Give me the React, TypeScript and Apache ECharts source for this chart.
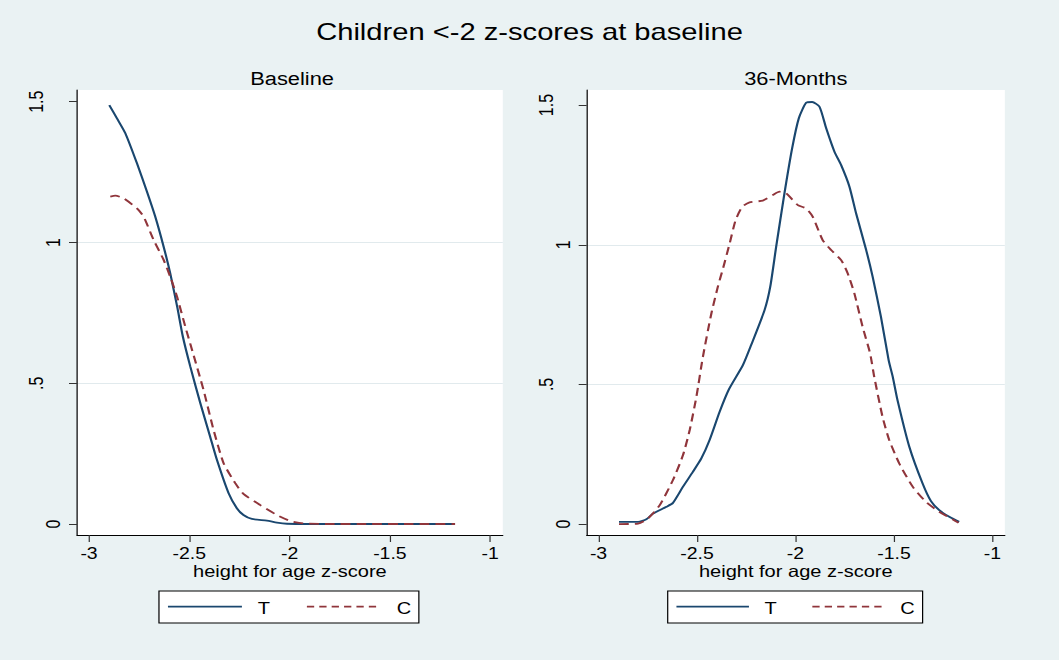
import React, { useEffect, useRef } from "react";
import * as echarts from "echarts";

// ---- data ----
const chartTitle = "Children <-2 z-scores at baseline";
const panelTitles = ["Baseline", "36-Months"];
const seriesNames = ["T", "C"];
const xTitle = "height for age z-score";
const xTicks = [-3, -2.5, -2, -1.5, -1];
const xTickLabels = ["-3", "-2.5", "-2", "-1.5", "-1"];
const yTicks = [0, 0.5, 1, 1.5];
const yTickLabels = ["0", ".5", "1", "1.5"];

// Baseline panel
const baseTX = [-2.899, -2.86, -2.819, -2.761, -2.711, -2.67, -2.628, -2.595, -2.56, -2.532, -2.495, -2.445, -2.396, -2.362, -2.304, -2.263, -2.23, -2.188, -2.113, -2.063, -2.013, -1.9, -1.7, -1.5, -1.3, -1.175];
const baseTY = [1.488, 1.44, 1.388, 1.281, 1.18, 1.092, 0.985, 0.89, 0.77, 0.665, 0.559, 0.429, 0.31, 0.227, 0.109, 0.056, 0.032, 0.018, 0.012, 0.005, 0.001, 0, 0, 0, 0, 0];
const baseCX = [-2.894, -2.869, -2.828, -2.761, -2.728, -2.678, -2.628, -2.595, -2.561, -2.52, -2.487, -2.429, -2.379, -2.329, -2.271, -2.23, -2.146, -2.063, -1.997, -1.931, -1.8, -1.6, -1.4, -1.175];
const baseCY = [1.163, 1.166, 1.157, 1.121, 1.092, 1.009, 0.938, 0.878, 0.807, 0.701, 0.62, 0.476, 0.334, 0.216, 0.145, 0.107, 0.067, 0.032, 0.011, 0.002, 0, 0, 0, 0];

// 36-Months panel
const m36TX = [-2.896, -2.799, -2.757, -2.723, -2.655, -2.622, -2.571, -2.521, -2.478, -2.436, -2.385, -2.338, -2.267, -2.225, -2.157, -2.128, -2.098, -2.056, -2.017, -1.983, -1.946, -1.915, -1.878, -1.844, -1.802, -1.768, -1.726, -1.692, -1.641, -1.608, -1.566, -1.527, -1.506, -1.482, -1.422, -1.355, -1.312, -1.27, -1.219, -1.169];
const m36TY = [0.008, 0.008, 0.017, 0.038, 0.062, 0.076, 0.134, 0.187, 0.235, 0.301, 0.402, 0.482, 0.569, 0.641, 0.766, 0.85, 0.993, 1.184, 1.345, 1.453, 1.508, 1.511, 1.494, 1.417, 1.333, 1.285, 1.208, 1.112, 0.981, 0.885, 0.742, 0.587, 0.527, 0.444, 0.277, 0.146, 0.082, 0.05, 0.026, 0.008];
const m36CX = [-2.896, -2.799, -2.749, -2.689, -2.622, -2.571, -2.537, -2.503, -2.47, -2.427, -2.394, -2.368, -2.334, -2.304, -2.27, -2.233, -2.166, -2.115, -2.081, -2.047, -1.988, -1.946, -1.912, -1.862, -1.819, -1.768, -1.735, -1.701, -1.659, -1.621, -1.6, -1.558, -1.524, -1.473, -1.405, -1.338, -1.27, -1.203, -1.172];
const m36CY = [0, 0.002, 0.02, 0.068, 0.158, 0.247, 0.337, 0.456, 0.599, 0.754, 0.85, 0.915, 1.005, 1.088, 1.136, 1.152, 1.158, 1.178, 1.19, 1.184, 1.142, 1.13, 1.1, 1.017, 0.981, 0.945, 0.898, 0.826, 0.706, 0.611, 0.527, 0.384, 0.301, 0.217, 0.134, 0.08, 0.044, 0.017, 0.005];

// ---- style ----
const BASE_W = 872;
const H = 660;
const SCALE_X = 1059 / BASE_W;
const FONT = '"Liberation Sans", Arial, Helvetica, sans-serif';
const T_COLOR = "#1A476F";
const C_COLOR = "#90353B";
const BG = "#EAF2F3";
const GRID_LINE = "#E1EAED";
const DASH = [8, 5];
const TICK_FS = 16;

const zip = (xs: number[], ys: number[]) => xs.map((x, i) => [x, ys[i]]);

const labelFor = (ticks: number[], labels: string[], v: number) => {
  for (let i = 0; i < ticks.length; i++) {
    if (Math.abs(ticks[i] - v) < 1e-6) return labels[i];
  }
  return "";
};

const tickText = {
  fontSize: TICK_FS,
  fontFamily: FONT,
  color: "#000",
};

const makeX = (gridIndex: number) => ({
  type: "value",
  gridIndex,
  min: -3.06,
  max: -0.937,
  minInterval: 0.5,
  maxInterval: 0.5,
  axisLine: { show: true, onZero: false, lineStyle: { color: "#000", width: 1 } },
  axisTick: { show: true, length: 7, customValues: xTicks, lineStyle: { color: "#333", width: 1 } },
  axisLabel: {
    show: true,
    showMinLabel: false,
    showMaxLabel: false,
    margin: 10.5,
    ...tickText,
    formatter: (v: number) => {
      const lab = labelFor(xTicks, xTickLabels, v);
      return lab ? `{t|${lab}}` : "";
    },
    rich: { t: { ...tickText } },
  },
  splitLine: { show: false },
  name: xTitle,
  nameLocation: "middle",
  nameGap: 27.5,
  nameMoveOverlap: false,
  nameTextStyle: { fontSize: 16.5, color: "#000", fontFamily: FONT },
});

const makeY = (gridIndex: number, max: number) => ({
  type: "value",
  gridIndex,
  min: -0.039,
  max,
  minInterval: 0.5,
  maxInterval: 0.5,
  axisLine: { show: true, onZero: false, lineStyle: { color: "#000", width: 1 } },
  axisTick: { show: true, length: 6.6, customValues: yTicks, lineStyle: { color: "#333", width: 1 } },
  axisLabel: {
    show: true,
    showMinLabel: false,
    showMaxLabel: false,
    rotate: 90,
    margin: 11.2,
    ...tickText,
    formatter: (v: number) => {
      const lab = labelFor(yTicks, yTickLabels, v);
      if (!lab) return "";
      return lab === "0" || lab === "1" ? `{n|${lab}}` : `{w|${lab}}`;
    },
    rich: {
      n: { ...tickText },
      w: { ...tickText, padding: [0, 0, 14, 0] },
    },
  },
  splitLine: {
    show: true,
    showMinLine: false,
    showMaxLine: false,
    lineStyle: { color: GRID_LINE, width: 1 },
  },
});

const makeSeries = (name: string, xi: number, data: number[][], color: string, dashed: boolean) => ({
  type: "line",
  name,
  xAxisIndex: xi,
  yAxisIndex: xi,
  data,
  symbol: "none",
  showSymbol: false,
  smooth: 0.2,
  lineStyle: { color, width: 1.8, type: dashed ? DASH : "solid" },
  itemStyle: { color },
});

const legendGroup = (
  x0: number,
  w: number,
  sx1: number,
  sx2: number,
  tX: number,
  dx1: number,
  dx2: number,
  cX: number
) => ({
  type: "group",
  children: [
    {
      type: "rect",
      shape: { x: x0, y: 591, width: w, height: 32 },
      style: { fill: "#fff", stroke: "#000", lineWidth: 1 },
    },
    {
      type: "line",
      shape: { x1: sx1, y1: 606.7, x2: sx2, y2: 606.7 },
      style: { stroke: T_COLOR, lineWidth: 1.8 },
    },
    {
      type: "text",
      x: tX,
      y: 607.8,
      style: { text: seriesNames[0], fontSize: 16.5, fontFamily: FONT, fill: "#000", align: "left", verticalAlign: "middle" },
    },
    {
      type: "line",
      shape: { x1: dx1, y1: 606.7, x2: dx2, y2: 606.7 },
      style: { stroke: C_COLOR, lineWidth: 1.8, lineDash: [6, 4.2] },
    },
    {
      type: "text",
      x: cX,
      y: 607.8,
      style: { text: seriesNames[1], fontSize: 16.5, fontFamily: FONT, fill: "#000", align: "left", verticalAlign: "middle" },
    },
  ],
});

export default function App() {
  const ref = useRef<HTMLDivElement>(null);

  useEffect(() => {
    if (!ref.current) return;
    const chart = echarts.init(ref.current, undefined, { renderer: "svg" });
    const option: any = {
      animation: false,
      backgroundColor: BG,
      textStyle: { fontFamily: FONT, fontSize: TICK_FS, color: "#000" },
      title: [
        {
          text: chartTitle,
          left: BASE_W / 2,
          top: 19.7,
          textAlign: "center",
          padding: 0,
          textStyle: { fontSize: 24, fontWeight: "normal", color: "#000", fontFamily: FONT },
        },
        {
          text: panelTitles[0],
          left: 240.5,
          top: 70,
          textAlign: "center",
          padding: 0,
          textStyle: { fontSize: 18, fontWeight: "normal", color: "#000", fontFamily: FONT },
        },
        {
          text: panelTitles[1],
          left: 655.25,
          top: 70,
          textAlign: "center",
          padding: 0,
          textStyle: { fontSize: 18, fontWeight: "normal", color: "#000", fontFamily: FONT },
        },
      ],
      grid: [
        { left: 63.4, top: 90, width: 350.6, height: 445, show: true, backgroundColor: "#fff", borderWidth: 0, containLabel: false, outerBoundsMode: "none" },
        { left: 483.1, top: 90, width: 344.3, height: 445, show: true, backgroundColor: "#fff", borderWidth: 0, containLabel: false, outerBoundsMode: "none" },
      ],
      xAxis: [makeX(0), makeX(1)],
      yAxis: [makeY(0, 1.5415), makeY(1, 1.554)],
      series: [
        makeSeries(seriesNames[0], 0, zip(baseTX, baseTY), T_COLOR, false),
        makeSeries(seriesNames[1], 0, zip(baseCX, baseCY), C_COLOR, true),
        makeSeries(seriesNames[0], 1, zip(m36TX, m36TY), T_COLOR, false),
        makeSeries(seriesNames[1], 1, zip(m36CX, m36CY), C_COLOR, true),
      ],
      graphic: [
        legendGroup(130.9, 214, 138.3, 199.2, 212.3, 252.7, 311.1, 326.7),
        legendGroup(549.8, 209.9, 557, 616.7, 629.6, 668.9, 726.5, 741.3),
      ],
    };
    chart.setOption(option);
    return () => chart.dispose();
  }, []);

  return (
    <div
      ref={ref}
      style={{
        position: "fixed",
        left: 0,
        top: 0,
        width: BASE_W + "px",
        height: H + "px",
        transform: `scaleX(${SCALE_X})`,
        transformOrigin: "0 0",
      }}
    />
  );
}
